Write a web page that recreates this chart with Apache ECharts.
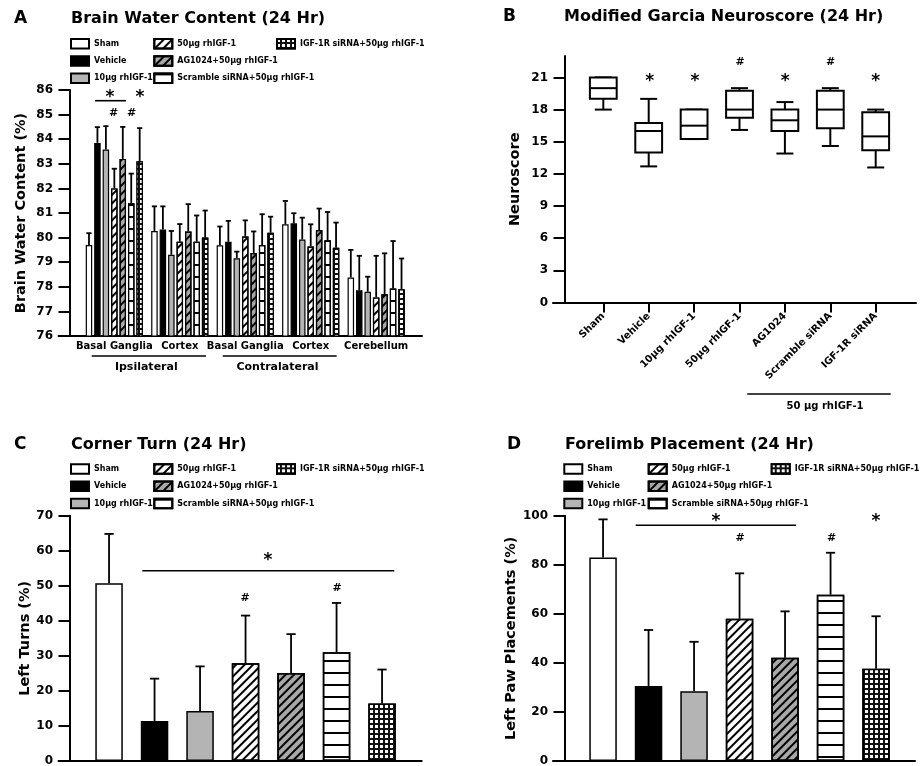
<!DOCTYPE html>
<html lang="en">
<head>
    <meta charset="utf-8" />
    <title>rhIGF-1 outcomes (24 Hr)</title>
    <script src="https://cdn.jsdelivr.net/npm/echarts@6.0.0/dist/echarts.min.js"></script>
    <style>
        body { margin: 0; background: #fff; }
        #main { width: 920px; height: 766px; }
    </style>
</head>
<body>
<div id="main"></div>
<script type="text/javascript">
    // ---- data ----
    const treatments = ['Sham', 'Vehicle', '10µg rhIGF-1', '50µg rhIGF-1',
        'AG1024+50µg rhIGF-1', 'Scramble siRNA+50µg rhIGF-1', 'IGF-1R siRNA+50µg rhIGF-1']
    const nsCategories = ['Sham', 'Vehicle', '10µg rhIGF-1', '50µg rhIGF-1', 'AG1024', 'Scramble siRNA', 'IGF-1R siRNA']
    const bwcRegions = ['Basal Ganglia', 'Cortex', 'Basal Ganglia', 'Cortex', 'Cerebellum']

    // brain water content, one array per region (order = treatments)
    const bwcIpsiBG = [79.7, 83.85, 83.58, 82.0, 83.2, 81.4, 83.1]
    const bwcIpsiBGSd = [0.48, 0.64, 0.95, 0.8, 1.3, 1.2, 1.35]
    const bwcIpsiCx = [80.27, 80.33, 79.3, 79.83, 80.25, 79.83, 80.0]
    const bwcIpsiCxSd = [1.0, 0.94, 0.97, 0.72, 1.11, 1.07, 1.1]
    const bwcContraBG = [79.69, 79.83, 79.16, 80.04, 79.37, 79.7, 80.2]
    const bwcContraBGSd = [0.76, 0.85, 0.27, 0.66, 0.88, 1.25, 0.65]
    const bwcContraCx = [80.54, 80.58, 79.92, 79.64, 80.31, 79.89, 79.59]
    const bwcContraCxSd = [0.95, 0.41, 0.89, 0.9, 0.87, 1.15, 1.02]
    const bwcCereb = [78.38, 77.86, 77.8, 77.57, 77.7, 77.93, 77.9]
    const bwcCerebSd = [1.12, 1.4, 0.61, 1.69, 1.66, 1.93, 1.25]

    // garcia neuroscore box plots
    const nsTicks = [0, 3, 6, 9, 12, 15, 18, 21]
    const nsLow = [18, 12.7, 15.25, 16.1, 13.9, 14.6, 12.6]
    const nsQ1 = [19, 14, 15.25, 17.25, 16, 16.25, 14.2]
    const nsMedian = [20, 16, 16.5, 18, 17, 18, 15.5]
    const nsQ3 = [21, 16.75, 18, 19.75, 18, 19.75, 17.75]
    const nsHigh = [21, 19, 18, 20, 18.7, 20, 18]

    // corner turn
    const ctMean = [50.7, 11.4, 14.3, 27.9, 25.1, 31.0, 16.4]
    const ctSd = [14.1, 12.1, 12.7, 13.6, 11.1, 14.1, 9.7]

    // forelimb placement
    const fpMean = [83.0, 30.6, 28.4, 58.0, 42.1, 67.8, 37.6]
    const fpSd = [15.5, 22.8, 20.2, 18.5, 18.9, 17.1, 21.4]

    // ---- styles ----
    const FONT = 'DejaVu Sans'
    let lineDecal = function (rot) {
        return {symbol: 'rect', symbolSize: 1, color: '#000', dashArrayX: [1, 0], dashArrayY: [1.3, 3.9], rotation: rot}
    }
    const fills = [
        {color: '#fff'},
        {color: '#000'},
        {color: '#b4b4b4'},
        {color: '#fff', decal: lineDecal(-Math.PI / 4)},
        {color: '#a8a8a8', decal: lineDecal(-Math.PI / 4)},
        {color: '#fff', decal: {symbol: 'rect', symbolSize: 1, color: '#000', dashArrayX: [1, 0], dashArrayY: [1.4, 9.6]}},
        {color: '#111', decal: {symbol: 'rect', symbolSize: 1, color: '#fff', dashArrayX: [[2.6, 1.9]], dashArrayY: [2.6, 1.9]}}
    ]
    let barStyle = function (k, bw) {
        return Object.assign({borderColor: '#000', borderWidth: bw}, fills[k])
    }

    // ---- helpers ----
    let frameGrid = function (left, right, top, bottom) {
        return {left: left, top: top, width: right - left, height: bottom - top, outerBoundsMode: 'none'}
    }
    let frameX = function (g) {
        return {gridIndex: g, type: 'value', min: 0, max: 1,
            axisLine: {onZero: false, lineStyle: {color: '#000', width: 2}},
            axisTick: {show: false}, axisLabel: {show: false}, splitLine: {show: false}}
    }
    let frameY = function (g) {
        return {gridIndex: g, type: 'value', min: 0, max: 1, show: false}
    }
    let valueAxis = function (g, min, max, interval, offset, name, gap) {
        return {gridIndex: g, type: 'value', min: min, max: max, interval: interval, offset: offset,
            name: name, nameLocation: 'middle', nameGap: gap, nameRotate: 90,
            nameTextStyle: {fontFamily: FONT, fontWeight: 'bold', fontSize: 14.5, color: '#000'},
            axisLine: {show: true, lineStyle: {color: '#000', width: 2}},
            axisTick: {show: true, length: 11.5, lineStyle: {color: '#000', width: 2}},
            axisLabel: {fontFamily: FONT, fontWeight: 'bold', fontSize: 12, color: '#000', margin: 17},
            splitLine: {show: false}}
    }
    let legendAt = function (left, top, names) {
        return {left: left, top: top, orient: 'vertical', data: names, icon: 'rect',
            itemWidth: 18, itemHeight: 9.5, itemGap: 5.7, padding: 0, selectedMode: false,
            textStyle: {fontFamily: FONT, fontWeight: 'bold', fontSize: 8, color: '#000', lineHeight: 10}}
    }
    let errRenderer = function (step, capHalf) {
        return function (params, api) {
            let cat = api.value(0), mean = api.value(1), sd = api.value(2), k = api.value(3)
            let p0 = api.coord([cat, mean])
            let p1 = api.coord([cat, mean + sd])
            let x = p0[0] + (k - 3) * step
            let st = {stroke: '#000', lineWidth: 1.8}
            return {type: 'group', children: [
                {type: 'line', shape: {x1: x, y1: p0[1], x2: x, y2: p1[1]}, style: st},
                {type: 'line', shape: {x1: x - capHalf, y1: p1[1], x2: x + capHalf, y2: p1[1]}, style: st}
            ]}
        }
    }
    let boxRenderer = function (params, api) {
        let cat = api.value(0)
        let lo = api.coord([cat, api.value(1)]), q1 = api.coord([cat, api.value(2)])
        let md = api.coord([cat, api.value(3)]), q3 = api.coord([cat, api.value(4)])
        let hi = api.coord([cat, api.value(5)])
        let x = md[0], hw = 13.4, cw = 8.5
        let st = {stroke: '#000', lineWidth: 2}
        return {type: 'group', children: [
            {type: 'line', shape: {x1: x, y1: q3[1], x2: x, y2: hi[1]}, style: st},
            {type: 'line', shape: {x1: x - cw, y1: hi[1], x2: x + cw, y2: hi[1]}, style: st},
            {type: 'line', shape: {x1: x, y1: q1[1], x2: x, y2: lo[1]}, style: st},
            {type: 'line', shape: {x1: x - cw, y1: lo[1], x2: x + cw, y2: lo[1]}, style: st},
            {type: 'rect', shape: {x: x - hw, y: q3[1], width: 2 * hw, height: q1[1] - q3[1]},
                style: {stroke: '#000', lineWidth: 2, fill: '#fff'}},
            {type: 'line', shape: {x1: x - hw, y1: md[1], x2: x + hw, y2: md[1]}, style: st}
        ]}
    }
    let txt = function (x, y, text, size, align) {
        return {type: 'text', x: x, y: y, silent: true,
            style: {text: text, fill: '#000', align: align || 'center', verticalAlign: 'middle',
                font: 'bold ' + size + 'px "' + FONT + '"'}}
    }
    let hline = function (x1, x2, y) {
        return {type: 'line', silent: true, shape: {x1: x1, y1: y, x2: x2, y2: y}, style: {stroke: '#000', lineWidth: 1.6}}
    }

    // ---- series ----
    let series = []
    const bwcMeans = [bwcIpsiBG, bwcIpsiCx, bwcContraBG, bwcContraCx, bwcCereb]
    const bwcSds = [bwcIpsiBGSd, bwcIpsiCxSd, bwcContraBGSd, bwcContraCxSd, bwcCerebSd]
    let bwcErr = []
    treatments.forEach(function (name, k) {
        series.push({type: 'bar', name: name, xAxisIndex: 1, yAxisIndex: 1, barWidth: 6.5, barGap: '30%',
            data: bwcMeans.map(function (arr) { return arr[k] }), itemStyle: barStyle(k, 1.2)})
        bwcMeans.forEach(function (arr, j) { bwcErr.push([j, arr[k], bwcSds[j][k], k]) })
    })
    series.push({type: 'custom', xAxisIndex: 1, yAxisIndex: 1, z: 3, encode: {x: 0, y: 1},
        renderItem: errRenderer(8.45, 2.6), data: bwcErr})

    series.push({type: 'custom', xAxisIndex: 3, yAxisIndex: 3, encode: {x: 0, y: 3},
        renderItem: boxRenderer,
        data: nsCategories.map(function (c, k) { return [k, nsLow[k], nsQ1[k], nsMedian[k], nsQ3[k], nsHigh[k]] })})

    const singlePanels = [[5, ctMean, ctSd], [7, fpMean, fpSd]]
    singlePanels.forEach(function (p) {
        treatments.forEach(function (name, k) {
            series.push({type: 'bar', name: name, xAxisIndex: p[0], yAxisIndex: p[0], barWidth: 27.5, barGap: '-100%',
                data: [[k, p[1][k]]], itemStyle: barStyle(k, 1.5)})
        })
        series.push({type: 'custom', xAxisIndex: p[0], yAxisIndex: p[0], z: 3, encode: {x: 0, y: 1},
            renderItem: errRenderer(0, 4.6),
            data: treatments.map(function (n, k) { return [k, p[1][k], p[2][k], 3] })})
    })

    const col1 = treatments.slice(0, 3), col2 = treatments.slice(3, 6), col3 = treatments.slice(6)

    let option = {
        animation: false,
        textStyle: {fontFamily: FONT, fontWeight: 'bold', color: '#000'},
        grid: [
            frameGrid(58.5, 422, 90, 336), frameGrid(81.6, 408.9, 90, 336),
            frameGrid(553, 916, 56, 302.5), frameGrid(580.6, 898.4, 56, 302.5),
            frameGrid(58.5, 421.7, 515.7, 761), frameGrid(86.3, 404.8, 515.7, 761),
            frameGrid(553, 915, 515.7, 761), frameGrid(580.3, 898.8, 515.7, 761)
        ],
        xAxis: [
            frameX(0),
            {gridIndex: 1, type: 'category', data: bwcRegions, axisLine: {show: false}, axisTick: {show: false},
                axisLabel: {fontFamily: FONT, fontWeight: 'bold', fontSize: 10, color: '#000', margin: 5, interval: 0}},
            frameX(2),
            {gridIndex: 3, type: 'category', data: nsCategories, axisLine: {show: false},
                axisTick: {show: true, alignWithLabel: true, length: 10, lineStyle: {color: '#000', width: 2}},
                axisLabel: {fontFamily: FONT, fontWeight: 'bold', fontSize: 10, color: '#000', rotate: 45, margin: 12, interval: 0}},
            frameX(4),
            {gridIndex: 5, type: 'category', data: treatments, axisLine: {show: false}, axisTick: {show: false}, axisLabel: {show: false}},
            frameX(6),
            {gridIndex: 7, type: 'category', data: treatments, axisLine: {show: false}, axisTick: {show: false}, axisLabel: {show: false}}
        ],
        yAxis: [
            frameY(0),
            valueAxis(1, 76, 86, 1, 11.6, 'Brain Water Content (%)', 41),
            frameY(2),
            Object.assign(valueAxis(3, 0, 23, 3, 15.6, 'Neuroscore', 42), {
                axisTick: {show: true, length: 11.5, customValues: nsTicks, lineStyle: {color: '#000', width: 2}},
                axisLabel: {fontFamily: FONT, fontWeight: 'bold', fontSize: 12, color: '#000', margin: 17, customValues: nsTicks}
            }),
            frameY(4),
            valueAxis(5, 0, 70, 10, 16.3, 'Left Turns (%)', 37),
            frameY(6),
            valueAxis(7, 0, 100, 20, 15.3, 'Left Paw Placements (%)', 42)
        ],
        legend: [
            legendAt(70, 38, col1), legendAt(153.3, 38, col2), legendAt(276, 38, col3),
            legendAt(70, 463.3, col1), legendAt(153.3, 463.3, col2), legendAt(276, 463.3, col3),
            legendAt(563.3, 463.3, col1), legendAt(647.7, 463.3, col2), legendAt(770.7, 463.3, col3)
        ],
        graphic: [
            // panel letters and titles
            txt(14, 19, 'A', 17, 'left'), txt(71, 19, 'Brain Water Content (24 Hr)', 16, 'left'),
            txt(503, 17, 'B', 17, 'left'), txt(564, 17, 'Modified Garcia Neuroscore (24 Hr)', 16, 'left'),
            txt(14, 445, 'C', 17, 'left'), txt(71, 445, 'Corner Turn (24 Hr)', 16, 'left'),
            txt(507, 445, 'D', 17, 'left'), txt(565, 445, 'Forelimb Placement (24 Hr)', 16, 'left'),
            // panel A grouping
            hline(91.7, 206, 356), hline(222.7, 336.7, 356),
            txt(146.3, 367.5, 'Ipsilateral', 11), txt(277.5, 367.5, 'Contralateral', 11),
            // panel A significance
            hline(95, 126, 100.7), txt(110, 98, '*', 17), txt(140, 98, '*', 17),
            txt(113.5, 113, '#', 11), txt(131.5, 113, '#', 11),
            // panel B
            hline(747.3, 890.7, 394), txt(825, 406, '50 µg rhIGF-1', 10),
            txt(649.7, 82, '*', 17), txt(695, 82, '*', 17), txt(785.3, 82, '*', 17), txt(875.7, 82, '*', 17),
            txt(740, 62, '#', 11), txt(830.7, 62, '#', 11),
            // panel C
            hline(142.3, 394.3, 570.7), txt(268, 561, '*', 17),
            txt(245, 598, '#', 11), txt(337, 588, '#', 11),
            // panel D
            hline(635.7, 796, 525.3), txt(716, 522, '*', 17), txt(876, 522, '*', 17),
            txt(740, 538, '#', 11), txt(831.7, 538, '#', 11)
        ],
        series: series
    }

    let myChart = echarts.init(document.getElementById('main'), null, {renderer: 'canvas'})
    myChart.setOption(option)
</script>
</body>
</html>
